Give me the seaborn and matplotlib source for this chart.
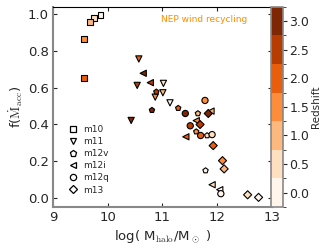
import numpy as np
import pandas as pd
import matplotlib
matplotlib.use("Agg")
import matplotlib.pyplot as plt
import seaborn as sns
from matplotlib.colors import ListedColormap, BoundaryNorm
from matplotlib.lines import Line2D

# redshift bins used for colouring
redshifts = [0.0, 0.5, 1.0, 1.5, 2.0, 2.5, 3.0]

# halo samples: log halo mass, accretion fraction, redshift
m10_logm = [9.87, 9.75, 9.67, 9.56, 9.56]
m10_f = [0.995, 0.978, 0.955, 0.863, 0.654]
m10_z = [0.0, 0.5, 1.0, 1.5, 2.0]

m11_logm = [11.14, 11.02, 11.01, 10.87, 10.57, 10.54, 10.43]
m11_f = [0.517, 0.623, 0.572, 0.548, 0.756, 0.612, 0.421]
m11_z = [0.0, 0.5, 1.0, 1.5, 2.0, 2.5, 3.0]

m12v_logm = [11.79, 11.82, 11.65, 11.62, 11.29, 10.89, 10.81]
m12v_f = [0.148, 0.339, 0.459, 0.36, 0.488, 0.577, 0.477]
m12v_z = [0.0, 0.5, 1.0, 1.5, 2.0, 2.5, 3.0]

m12i_logm = [12.05, 11.91, 11.89, 11.62, 11.43, 10.78, 10.65]
m12i_f = [0.044, 0.071, 0.472, 0.42, 0.332, 0.627, 0.678]
m12i_z = [0.0, 0.5, 1.0, 1.5, 2.0, 2.5, 3.0]

m12q_logm = [12.07, 11.91, 11.78, 11.70, 11.51, 11.42]
m12q_f = [0.022, 0.344, 0.53, 0.339, 0.392, 0.459]
m12q_z = [0.0, 0.5, 1.5, 2.0, 2.5, 3.0]

m13_logm = [12.76, 12.56, 12.13, 12.10, 11.93, 11.69, 11.84]
m13_f = [0.002, 0.016, 0.157, 0.202, 0.284, 0.399, 0.459]
m13_z = [0.0, 0.5, 1.0, 1.5, 2.0, 2.5, 3.0]

halos = {
    "m10": (m10_logm, m10_f, m10_z, "s", 18),
    "m11": (m11_logm, m11_f, m11_z, "v", 20),
    "m12v": (m12v_logm, m12v_f, m12v_z, "p", 16),
    "m12i": (m12i_logm, m12i_f, m12i_z, "<", 20),
    "m12q": (m12q_logm, m12q_f, m12q_z, "o", 20),
    "m13": (m13_logm, m13_f, m13_z, "D", 17),
}

rows = []
for name, (lm, f, z, mk, sz) in halos.items():
    for a, b, c in zip(lm, f, z):
        rows.append({"halo": name, "logm": a, "f": b, "z": c})
df = pd.DataFrame(rows)

sns.set_style("ticks")
plt.rcParams["font.family"] = ["DejaVu Sans"]
plt.rcParams["mathtext.fontset"] = "cm"

colors = [plt.cm.Oranges(v) for v in np.linspace(0, 1, len(redshifts))]
cmap = ListedColormap(colors)
norm = BoundaryNorm(np.arange(-0.25, 3.3, 0.5), cmap.N)
pal = dict(zip(redshifts, colors))

fig = plt.figure(figsize=(3.25, 2.44), dpi=100)
ax = fig.add_axes([0.163, 0.152, 0.673, 0.82])
cax = fig.add_axes([0.834, 0.152, 0.037, 0.82])

for name, (lm, f, z, mk, sz) in halos.items():
    sub = df[df["halo"] == name]
    sns.scatterplot(data=sub, x="logm", y="f", hue="z", palette=pal,
                    marker=mk, s=sz, edgecolor="black", linewidth=0.8,
                    legend=False, ax=ax, zorder=3)

ax.set_xlim(9, 13)
ax.set_ylim(-0.05, 1.04)
ax.set_xticks([9, 10, 11, 12, 13])
ax.set_yticks([0.0, 0.2, 0.4, 0.6, 0.8, 1.0])
ax.tick_params(direction="in", top=True, right=True, labelsize=9.5,
               length=3, width=0.8, pad=3)
for side in ["left", "bottom"]:
    ax.spines[side].set_color("#888888")
    ax.spines[side].set_linewidth(1.5)
for side in ["top", "right"]:
    ax.spines[side].set_color("black")
    ax.spines[side].set_linewidth(0.8)

ax.set_xlabel(r"log( M$_{\rm halo}$/M$_\odot$ )", fontsize=9.5, labelpad=3)
ax.set_ylabel(r"f($\dot{\rm M}_{\rm acc}$)", fontsize=9.5, labelpad=2)

ax.text(11.76, 0.97, "NEP wind recycling", color="darkorange",
        fontsize=6.5, ha="center", va="center")

handles = [Line2D([], [], marker=mk, ls="none", markerfacecolor="white",
                  markeredgecolor="black", markersize=4.5, markeredgewidth=0.9)
           for (lm, f, z, mk, sz) in halos.values()]
ax.legend(handles, list(halos.keys()), loc="lower left",
          bbox_to_anchor=(0.02, 0.03), frameon=False, fontsize=6.5,
          handletextpad=0.2, labelspacing=0.35, borderpad=0.2)

sm = plt.cm.ScalarMappable(norm=norm, cmap=cmap)
cb = fig.colorbar(sm, cax=cax, ticks=redshifts)
cb.ax.tick_params(labelsize=9, length=3, direction="out", pad=1.5)
cb.outline.set_edgecolor("#888888")
cb.outline.set_linewidth(1.2)
cb.set_label("Redshift", fontsize=7.5, labelpad=1)

fig.savefig("out.png", dpi=100)
